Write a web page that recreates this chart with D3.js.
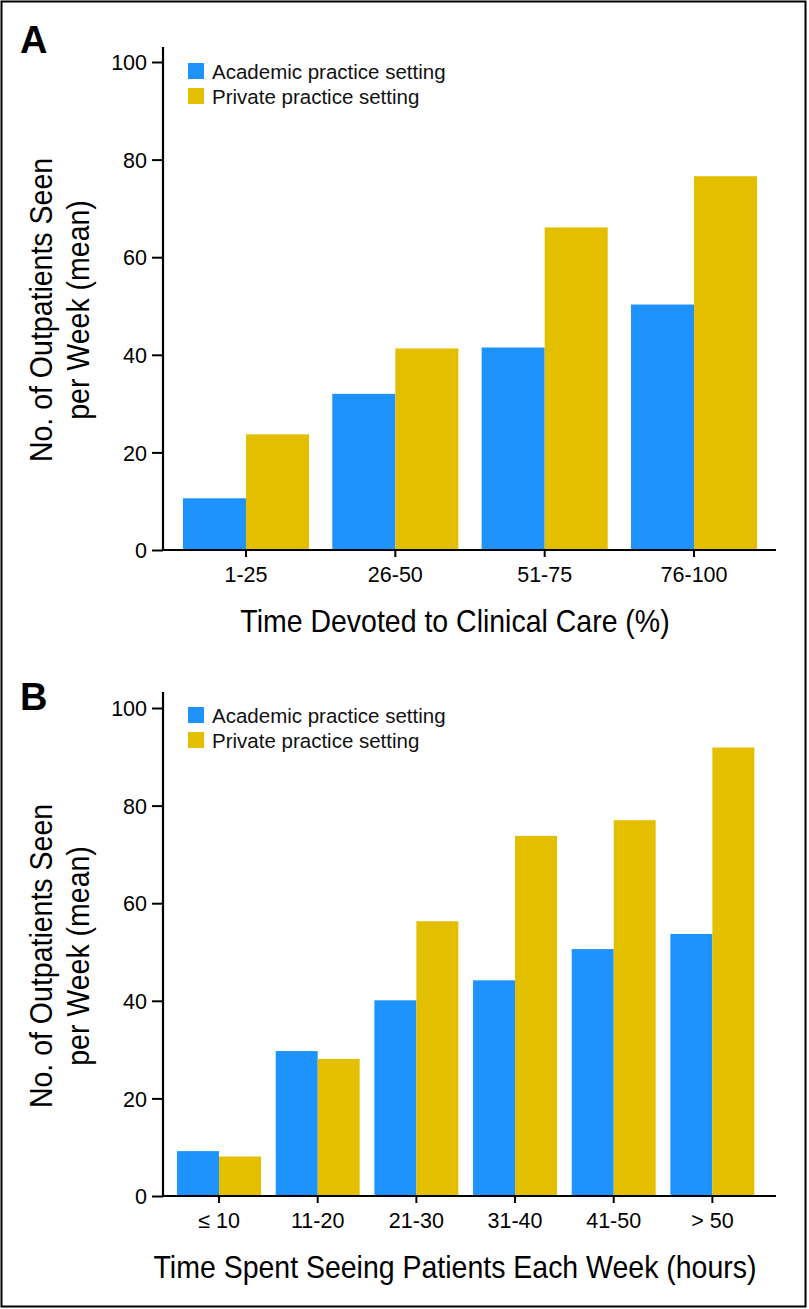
<!DOCTYPE html>
<html>
<head>
<meta charset="utf-8">
<script src="https://cdn.jsdelivr.net/npm/d3@7"></script>
<style>
  html, body { margin: 0; padding: 0; background: #fff; }
  svg { display: block; }
</style>
</head>
<body>
<svg id="chart" width="809" height="1309"></svg>
<script>
// ---------- Data ----------
const seriesNames = ["Academic practice setting", "Private practice setting"];
const seriesColors = ["#1f93fd", "#e3bf00"];

const categoriesA = ["1-25", "26-50", "51-75", "76-100"];
const academicA = [10.6, 32.0, 41.5, 50.3];
const privateA  = [23.7, 41.3, 66.1, 76.6];

const categoriesB = ["\u2264 10", "11-20", "21-30", "31-40", "41-50", "> 50"];
const academicB = [9.2, 29.7, 40.1, 44.2, 50.6, 53.7];
const privateB  = [8.1, 28.1, 56.3, 73.8, 77.0, 91.9];

const yTicks = [0, 20, 40, 60, 80, 100];
const yTitleLines = ["No. of Outpatients Seen", "per Week (mean)"];
const xTitleA = "Time Devoted to Clinical Care (%)";
const xTitleB = "Time Spent Seeing Patients Each Week (hours)";

// ---------- Drawing ----------
const svg = d3.select("#chart");
const sansFont = "'Liberation Sans', Arial, Helvetica, sans-serif";

// outer frame
svg.append("rect")
  .attr("x", 1.5).attr("y", 1.5)
  .attr("width", 804).attr("height", 1305)
  .attr("fill", "none").attr("stroke", "#000").attr("stroke-width", 2);

function drawPanel(cfg) {
  const g = svg.append("g");
  const axisX = 163;
  const y = d3.scaleLinear().domain([0, 100]).range([cfg.y0, cfg.y100]);
  const x = d3.scaleBand().domain(cfg.categories)
    .range([cfg.xStart, cfg.xEnd]).paddingInner(cfg.pad).paddingOuter(cfg.pad / 2);
  const xs = d3.scaleBand().domain([0, 1]).range([0, x.bandwidth()]);

  const rows = cfg.categories.map((c, i) => ({ c, vals: [cfg.academic[i], cfg.private[i]] }));

  // bars
  const grp = g.selectAll("g.grp").data(rows).join("g")
    .attr("transform", d => `translate(${x(d.c)},0)`);
  grp.selectAll("rect").data(d => d.vals).join("rect")
    .attr("x", (d, i) => xs(i))
    .attr("width", xs.bandwidth())
    .attr("y", d => y(d))
    .attr("height", d => y(0) - y(d))
    .attr("fill", (d, i) => seriesColors[i]);

  // y axis
  const yAxis = g.append("g").attr("transform", `translate(${axisX},0)`)
    .call(d3.axisLeft(y).tickValues(yTicks).tickSize(11).tickPadding(5).tickSizeOuter(0));
  yAxis.select(".domain").remove();
  yAxis.append("line").attr("x1", 0).attr("x2", 0)
    .attr("y1", cfg.yTop).attr("y2", cfg.y0 + 1)
    .attr("stroke", "#000").attr("stroke-width", 2.2);
  yAxis.selectAll(".tick line").attr("stroke", "#000").attr("stroke-width", 2);
  yAxis.selectAll(".tick text").attr("fill", "#000")
    .style("font-family", sansFont).style("font-size", "21.5px").attr("dy", "0.36em");

  // x axis
  const xAxis = g.append("g").attr("transform", `translate(0,${cfg.y0})`)
    .call(d3.axisBottom(x).tickSize(7).tickPadding(10).tickSizeOuter(0));
  xAxis.select(".domain").remove();
  xAxis.append("line").attr("x1", axisX).attr("x2", 776)
    .attr("y1", 0).attr("y2", 0)
    .attr("stroke", "#000").attr("stroke-width", 2.2);
  xAxis.selectAll(".tick line").attr("stroke", "#000").attr("stroke-width", 2);
  xAxis.selectAll(".tick text").attr("fill", "#000")
    .style("font-family", sansFont).style("font-size", "21.5px")
    .attr("dy", null).attr("y", 32);

  // panel letter
  g.append("text").attr("x", 20).attr("y", cfg.letterBase)
    .text(cfg.letter)
    .style("font-family", sansFont).style("font-weight", "bold").style("font-size", "38px");

  // legend
  const leg = g.append("g");
  seriesNames.forEach((name, i) => {
    const ly = cfg.legendTop + i * 25;
    leg.append("rect").attr("x", 188).attr("y", ly)
      .attr("width", 16).attr("height", 16).attr("fill", seriesColors[i]);
    leg.append("text").attr("x", 212).attr("y", ly + 15.5)
      .text(name)
      .style("font-family", sansFont).style("font-size", "20.5px").attr("fill", "#111");
  });

  // y title (two lines, rotated, condensed)
  const cy = (cfg.y0 + cfg.y100) / 2 + 4;
  const yt = g.append("text")
    .attr("transform", `translate(0,${cy}) rotate(-90) scale(0.92,1)`)
    .attr("text-anchor", "middle")
    .style("font-family", sansFont).style("font-size", "31px");
  yt.append("tspan").attr("x", 0).attr("y", 52).text(yTitleLines[0]);
  yt.append("tspan").attr("x", 0).attr("y", 89).text(yTitleLines[1]);

  // x title (condensed)
  g.append("text")
    .attr("transform", `translate(455,${cfg.xTitleBase}) scale(0.89,1)`)
    .attr("text-anchor", "middle")
    .text(cfg.xTitle)
    .style("font-family", sansFont).style("font-size", "32px");
}

drawPanel({
  letter: "A", letterBase: 53,
  categories: categoriesA, academic: academicA, private: privateA,
  y0: 550, y100: 62, yTop: 47,
  xStart: 171.3, xEnd: 768.7, pad: 0.156,
  legendTop: 63, xTitle: xTitleA, xTitleBase: 632
});

drawPanel({
  letter: "B", letterBase: 710,
  categories: categoriesB, academic: academicB, private: privateB,
  y0: 1196, y100: 708, yTop: 692,
  xStart: 169.7, xEnd: 761.7, pad: 0.149,
  legendTop: 707, xTitle: xTitleB, xTitleBase: 1278
});
</script>
</body>
</html>
